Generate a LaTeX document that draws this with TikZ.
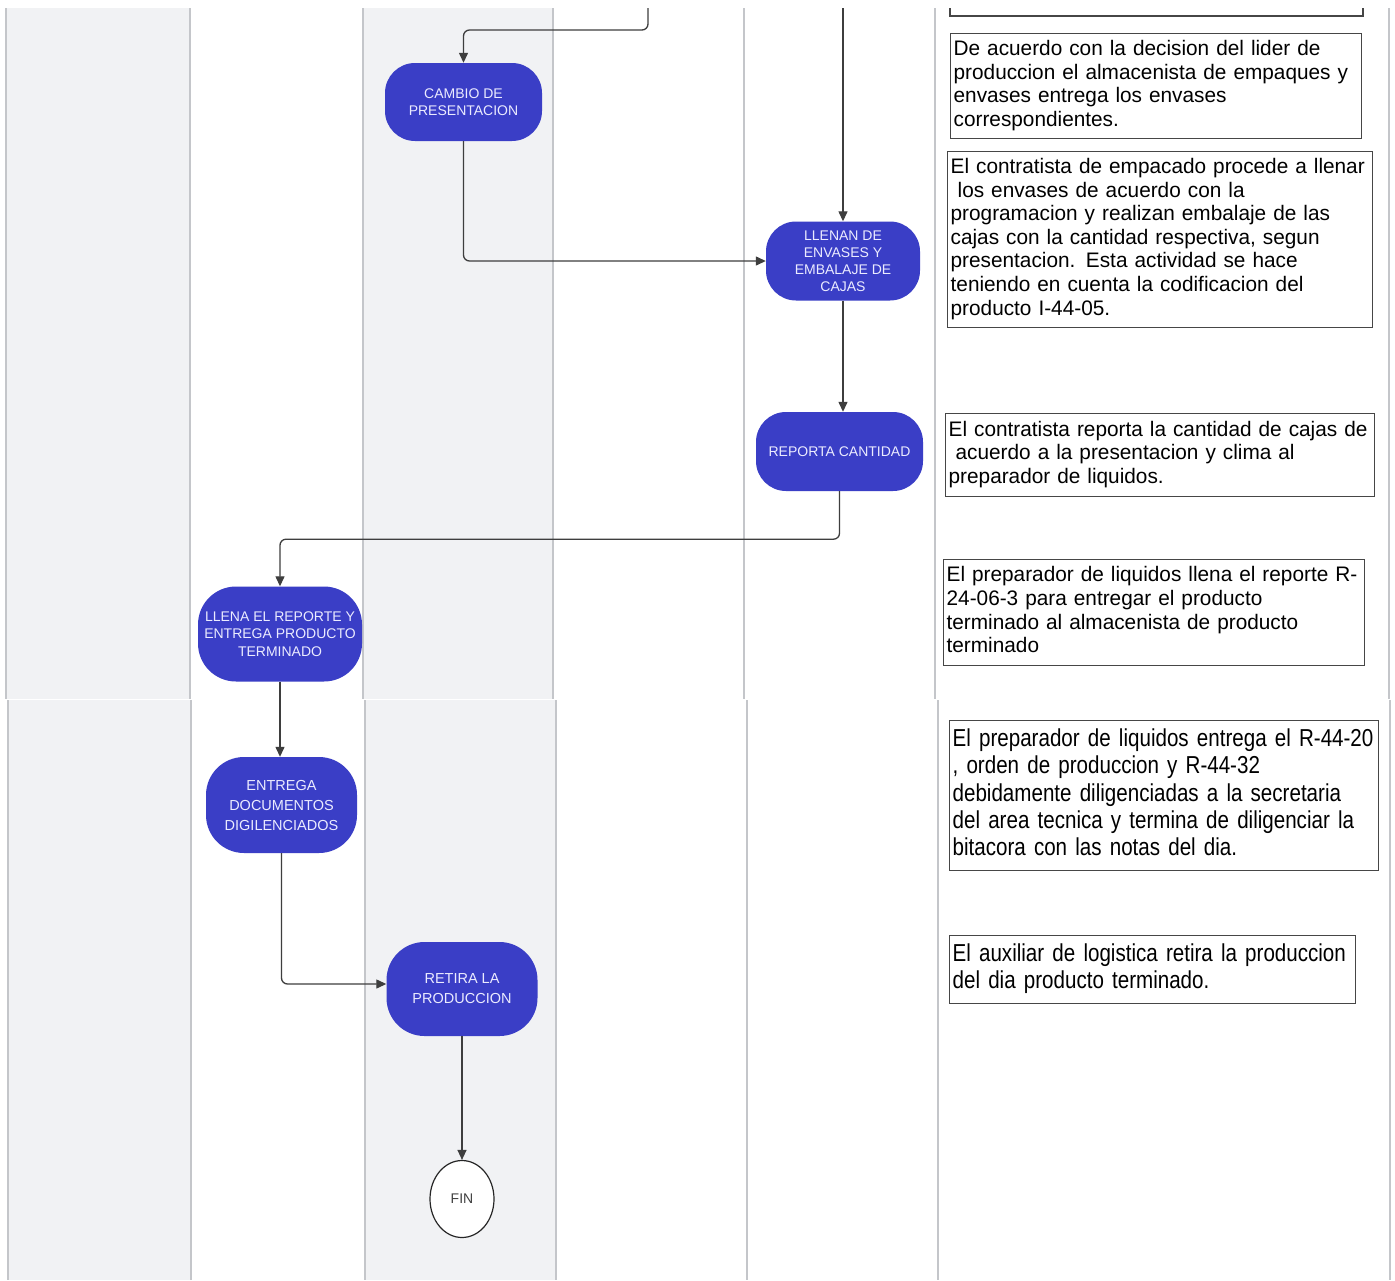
\documentclass[tikz,border=0pt]{standalone}
\usepackage{fontspec}
\setmainfont{Liberation Sans}
\newfontfamily\notefont[FakeStretch=0.99]{Liberation Sans}
\newfontfamily\tallnotefont[FakeStretch=0.84,WordSpace=0.8]{Liberation Sans}
\usetikzlibrary{arrows.meta,shapes.geometric}

\definecolor{lanegray}{RGB}{241,242,244}
\definecolor{laneline}{RGB}{196,198,202}
\definecolor{stepblue}{RGB}{58,62,198}
\definecolor{flowline}{RGB}{62,62,62}
\definecolor{notebord}{RGB}{70,70,70}

\tikzset{
  proc/.style={rectangle, rounded corners=30pt, fill=stepblue, text=white!92!blue,
    align=center, inner sep=0pt, font=\fontsize{14}{17}\selectfont},
  bigproc/.style={proc, rounded corners=38pt, font=\fontsize{14.5}{20}\selectfont},
  endnode/.style={ellipse, draw=black!85, line width=1.2pt, fill=white, inner sep=0pt,
    text=black!75, font=\fontsize{14}{16}\selectfont},
  flow/.style={draw=flowline, line width=1.3pt, rounded corners=6pt,
    -{Triangle[length=10pt,width=9pt]}},
  note/.style={draw=notebord, line width=1.3pt, fill=white, anchor=north west,
    inner xsep=3pt, inner ysep=0pt, align=left,
    font=\notefont\fontsize{21}{23.6}\selectfont},
  tallnote/.style={note, font=\tallnotefont\fontsize{24.5}{27.4}\selectfont},
  laneline/.style={draw=laneline, line width=1.5pt}
}

\begin{document}
\begin{tikzpicture}[x=1pt,y=-1pt]
\useasboundingbox (0,0) rectangle (1395,1280);
\fill[white] (0,0) rectangle (1395,1280);

% swim lanes, upper sheet
\fill[lanegray] (6,8) rectangle (190,699);
\fill[lanegray] (363,8) rectangle (553,699);
\foreach \x in {6,190,363,553,744,935,1389}
  \draw[laneline] (\x,8) -- (\x,699);

% swim lanes, lower sheet
\fill[lanegray] (8,700) rectangle (191,1280);
\fill[lanegray] (365,700) rectangle (556,1280);
\foreach \x in {8,191,365,556,747,938,1390}
  \draw[laneline] (\x,700) -- (\x,1280);

% process steps
\node[proc, minimum width=157pt, minimum height=78pt] (cambio) at (463.5,102)
  {CAMBIO DE\\PRESENTACION};
\node[proc, minimum width=154pt, minimum height=79pt] (llenan) at (843,261)
  {LLENAN DE\\ENVASES Y\\EMBALAJE DE\\CAJAS};
\node[proc, minimum width=167pt, minimum height=79pt] (reporta) at (839.5,451.5)
  {REPORTA CANTIDAD};
\node[bigproc, font=\fontsize{14}{17.5}\selectfont, minimum width=164pt, minimum height=95pt] (llena) at (280,634)
  {LLENA EL REPORTE Y\\ENTREGA PRODUCTO\\TERMINADO};
\node[bigproc, minimum width=151pt, minimum height=96pt] (entrega) at (281.5,805)
  {ENTREGA\\DOCUMENTOS\\DIGILENCIADOS};
\node[bigproc, minimum width=151pt, minimum height=94pt] (retira) at (462,989)
  {RETIRA LA\\PRODUCCION};
\node[endnode, minimum width=64pt, minimum height=77pt] (fin) at (462,1199) {FIN};

% incoming flows from the previous sheet
\coordinate (fromA) at (648,8);
\coordinate (fromB) at (843,8);

% connectors
\draw[flow] (fromA) -- (648,30) -- (cambio.north |- 0,30) -- (cambio.north);
\draw[flow] (fromB) -- (llenan.north);
\draw[flow] (cambio.south) |- (llenan.west);
\draw[flow] (llenan.south) -- (llenan.south |- reporta.north);
\draw[flow] (reporta.south) -- ++(0,48) -| (llena.north);
\draw[flow] (llena.south) -- (llena.south |- entrega.north);
\draw[flow] (entrega.south) |- ([yshift=5pt]retira.west);
\draw[flow] (retira.south) -- (fin.north);

% description column
\draw[draw=notebord, line width=1.3pt] (950,8) -- (950,16) -- (1363,16) -- (1363,8);

\node[note, text width=405pt, minimum height=105pt] (d1) at (950,33)
  {\begin{tabular}{@{}l@{}}De acuerdo con la decision del lider de\\
   produccion el almacenista de empaques y\\
   envases entrega los envases\\
   correspondientes.\end{tabular}};
\node[note, text width=419pt, minimum height=176pt] (d2) at (947,151)
  {\begin{tabular}{@{}l@{}}El contratista de empacado procede a llenar\\
   \ los envases de acuerdo con la\\
   programacion y realizan embalaje de las\\
   cajas con la cantidad respectiva, segun\\
   presentacion. Esta actividad se hace\\
   teniendo en cuenta la codificacion del\\
   producto I-44-05.\end{tabular}};
\node[note, text width=423pt, minimum height=83pt] (d3) at (945,413)
  {\begin{tabular}{@{}l@{}}El contratista reporta la cantidad de cajas de\\
   \ acuerdo a la presentacion y clima al\\
   preparador de liquidos.\end{tabular}};
\node[note, text width=415pt, minimum height=106pt] (d4) at (943,559)
  {\begin{tabular}{@{}l@{}}El preparador de liquidos llena el reporte R-\\
   24-06-3 para entregar el producto\\
   terminado al almacenista de producto\\
   terminado\end{tabular}};
\node[tallnote, text width=423pt, minimum height=150pt] (d5) at (949,720)
  {\begin{tabular}{@{}l@{}}El preparador de liquidos entrega el R-44-20\\
   , orden de produccion y R-44-32\\
   debidamente diligenciadas a la secretaria\\
   del area tecnica y termina de diligenciar la\\
   bitacora con las notas del dia.\end{tabular}};
\node[tallnote, text width=400pt, minimum height=68pt] (d6) at (949,935)
  {\begin{tabular}{@{}l@{}}El auxiliar de logistica retira la produccion\\
   del dia producto terminado.\end{tabular}};
\end{tikzpicture}
\end{document}
